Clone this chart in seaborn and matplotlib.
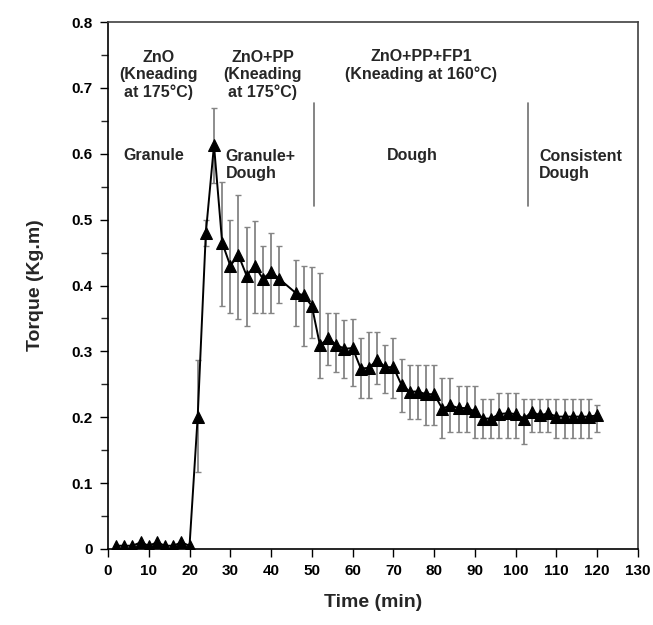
import matplotlib
matplotlib.use("Agg")
import matplotlib.pyplot as plt
import seaborn as sns
import numpy as np
import pandas as pd
from matplotlib.ticker import MultipleLocator

# ---- data ----
time_min = [2, 4, 6, 8, 10, 12, 14, 16, 18, 20,
            22, 24, 26, 28, 30, 32, 34, 36, 38, 40, 42,
            46, 48, 50, 52, 54, 56, 58, 60, 62, 64, 66, 68, 70,
            72, 74, 76, 78, 80, 82, 84, 86, 88, 90, 92, 94, 96, 98, 100,
            102, 104, 106, 108, 110, 112, 114, 116, 118, 120]
torque = [0.005, 0.005, 0.005, 0.010, 0.005, 0.010, 0.005, 0.005, 0.010, 0.005,
          0.201, 0.480, 0.613, 0.465, 0.430, 0.446, 0.415, 0.430, 0.410, 0.421, 0.410,
          0.389, 0.385, 0.369, 0.309, 0.320, 0.310, 0.304, 0.305, 0.274, 0.275, 0.287, 0.276, 0.276,
          0.249, 0.239, 0.239, 0.235, 0.235, 0.213, 0.218, 0.214, 0.214, 0.209, 0.198, 0.198, 0.205, 0.206, 0.205,
          0.198, 0.208, 0.203, 0.206, 0.201, 0.201, 0.201, 0.201, 0.201, 0.203]
err_top = [0.005, 0.005, 0.005, 0.010, 0.005, 0.010, 0.005, 0.005, 0.010, 0.005,
           0.287, 0.500, 0.669, 0.557, 0.499, 0.538, 0.489, 0.498, 0.460, 0.480, 0.460,
           0.438, 0.429, 0.428, 0.419, 0.359, 0.359, 0.348, 0.349, 0.320, 0.330, 0.330, 0.310, 0.320,
           0.288, 0.279, 0.279, 0.279, 0.279, 0.259, 0.259, 0.247, 0.247, 0.247, 0.227, 0.227, 0.237, 0.237, 0.237,
           0.227, 0.227, 0.227, 0.227, 0.227, 0.227, 0.227, 0.227, 0.227, 0.219]
err_bottom = [0.005, 0.005, 0.005, 0.010, 0.005, 0.010, 0.005, 0.005, 0.010, 0.005,
              0.117, 0.460, 0.555, 0.369, 0.358, 0.349, 0.338, 0.359, 0.359, 0.359, 0.373,
              0.338, 0.308, 0.320, 0.259, 0.279, 0.269, 0.259, 0.247, 0.229, 0.229, 0.250, 0.237, 0.229,
              0.208, 0.198, 0.198, 0.188, 0.188, 0.169, 0.178, 0.178, 0.178, 0.169, 0.169, 0.169, 0.169, 0.169, 0.169,
              0.159, 0.178, 0.178, 0.178, 0.169, 0.169, 0.169, 0.169, 0.169, 0.178]

stage_labels = ["ZnO\n(Kneading\nat 175\u00b0C)", "ZnO+PP\n(Kneading\nat 175\u00b0C)",
                "ZnO+PP+FP1\n(Kneading at 160\u00b0C)"]
state_labels = ["Granule", "Granule+\nDough", "Dough", "Consistent\nDough"]
boundaries = [50.5, 103]
x_ticks = list(range(0, 131, 10))
y_ticks = [0, 0.1, 0.2, 0.3, 0.4, 0.5, 0.6, 0.7, 0.8]

df = pd.DataFrame({"Time": time_min, "Torque": torque})
t = np.array(time_min)
v = np.array(torque)
yerr = np.vstack([v - np.array(err_bottom), np.array(err_top) - v])

# ---- style ----
sns.set_style("ticks")
plt.rcParams["font.family"] = ["Liberation Sans", "DejaVu Sans"]
plt.rcParams["font.weight"] = "bold"

fig = plt.figure(figsize=(6.53, 6.25), dpi=100)
ax = fig.add_axes([108/653, 1 - 549/625, (638-108)/653, (549-22)/625])

mask = t >= 22
ax.errorbar(t[mask], v[mask], yerr=yerr[:, mask], fmt="none", ecolor="#858585",
            elinewidth=1.3, capsize=2.5, capthick=1.0, zorder=1)
sns.lineplot(data=df, x="Time", y="Torque", ax=ax, color="black", linewidth=1.4,
             marker="^", markersize=8, markeredgecolor="black", markerfacecolor="black",
             zorder=3, legend=False)

for b in boundaries:
    ax.plot([b, b], [0.52, 0.677], color="#707070", linewidth=1.2, zorder=2)

fs = 11.5
ax.text(12.3, 0.7195, stage_labels[0], ha="center", va="center", fontsize=fs, fontweight="bold", linespacing=1.15)
ax.text(38.0, 0.7195, stage_labels[1], ha="center", va="center", fontsize=fs, fontweight="bold", linespacing=1.15)
ax.text(76.8, 0.734, stage_labels[2], ha="center", va="center", fontsize=fs, fontweight="bold", linespacing=1.15)
ax.text(11.3, 0.598, state_labels[0], ha="center", va="center", fontsize=fs, fontweight="bold")
ax.text(28.9, 0.583, state_labels[1], ha="left", va="center", fontsize=fs, fontweight="bold", linespacing=1.15)
ax.text(74.6, 0.598, state_labels[2], ha="center", va="center", fontsize=fs, fontweight="bold")
ax.text(105.7, 0.583, state_labels[3], ha="left", va="center", fontsize=fs, fontweight="bold", linespacing=1.15)

ax.set_xlim(0, 130)
ax.set_ylim(0, 0.8)
ax.set_xticks(x_ticks)
ax.set_xticklabels([str(x) for x in x_ticks])
ax.set_yticks(y_ticks)
ax.set_yticklabels(["0" if y == 0 else f"{y:.1f}" for y in y_ticks])
ax.yaxis.set_minor_locator(MultipleLocator(0.05))
ax.tick_params(axis="both", which="major", direction="out", length=6, width=1,
               labelsize=11, colors="black", pad=5)
ax.tick_params(axis="y", which="minor", direction="out", length=5, width=1)
for lab in ax.get_xticklabels() + ax.get_yticklabels():
    lab.set_fontweight("bold")

for s in ax.spines.values():
    s.set_visible(True)
    s.set_color("black")
    s.set_linewidth(1.2)
ax.spines["right"].set_color("#404040")
ax.spines["top"].set_color("#404040")

ax.set_xlabel("Time (min)", fontsize=14, fontweight="bold", labelpad=11)
ax.set_ylabel("Torque (Kg.m)", fontsize=14, fontweight="bold", labelpad=20)

fig.savefig("out.png", dpi=100)
